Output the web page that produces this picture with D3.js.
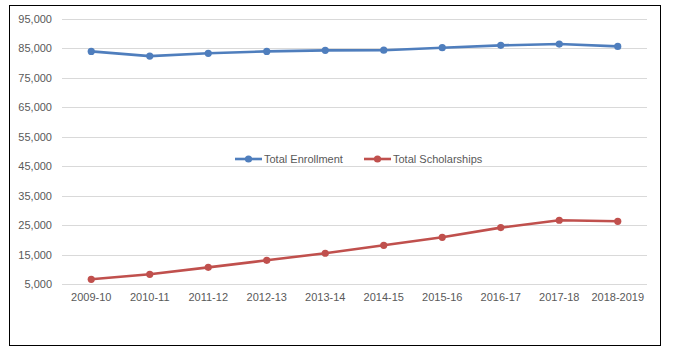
<!DOCTYPE html>
<html><head><meta charset="utf-8">
<script src="https://cdn.jsdelivr.net/npm/d3@7"></script>
<style>body{margin:0;background:#fff}svg{display:block}</style>
</head><body><svg id="c" width="673" height="358"></svg>
<script>
const categories = ["2009-10","2010-11","2011-12","2012-13","2013-14","2014-15","2015-16","2016-17","2017-18","2018-2019"];
const enrollment = [84000, 82400, 83350, 84000, 84350, 84400, 85250, 86050, 86500, 85700];
const scholarships = [6600, 8300, 10650, 13050, 15450, 18150, 20850, 24150, 26650, 26300];
const yTicks = [5000,15000,25000,35000,45000,55000,65000,75000,85000,95000];
const seriesNames = ["Total Enrollment","Total Scholarships"];
const colors = ["#4F7EBD","#C0504D"];

const svg = d3.select("#c");
const font = "'Liberation Sans', Arial, sans-serif";
svg.append("rect").attr("x",9.5).attr("y",5.5).attr("width",651).attr("height",340)
  .attr("fill","#fff").attr("stroke","#000").attr("stroke-width",1);

const x = d3.scaleBand().domain(categories).range([62,647]);
const y = d3.scaleLinear().domain([5000,95000]).range([284,19]);

const g = svg.append("g");
g.selectAll("line.grid").data(yTicks).join("line").attr("class","grid")
  .attr("x1",62).attr("x2",647)
  .attr("y1",d=>Math.round(y(d))+0.5).attr("y2",d=>Math.round(y(d))+0.5)
  .attr("stroke","#d9d9d9").attr("stroke-width",1);

const yAxis = svg.append("g").attr("transform","translate(62,0)")
  .call(d3.axisLeft(y).tickValues(yTicks).tickSize(0).tickPadding(10).tickFormat(d3.format(",")));
yAxis.select(".domain").remove();
yAxis.selectAll("text").attr("font-family",font).attr("font-size",11).attr("fill","#595959");

const xAxis = svg.append("g").attr("transform","translate(0,284)")
  .call(d3.axisBottom(x).tickSize(0).tickPadding(9));
xAxis.select(".domain").remove();
xAxis.selectAll("text").attr("font-family",font).attr("font-size",11).attr("fill","#595959");

const series = [enrollment, scholarships];
const line = d3.line().x((d,i)=>x(categories[i])+x.bandwidth()/2).y(d=>y(d));
series.forEach((s,k)=>{
  svg.append("path").datum(s).attr("d",line).attr("fill","none")
    .attr("stroke",colors[k]).attr("stroke-width",2.6).attr("stroke-linejoin","round");
  svg.selectAll(null).data(s).join("circle")
    .attr("cx",(d,i)=>x(categories[i])+x.bandwidth()/2).attr("cy",d=>y(d))
    .attr("r",3.6).attr("fill",colors[k]);
});

// legend
const legX = [235, 364];
seriesNames.forEach((n,k)=>{
  const lg = svg.append("g").attr("transform",`translate(${legX[k]},159)`);
  lg.append("line").attr("x1",0).attr("x2",27).attr("y1",0).attr("y2",0)
    .attr("stroke",colors[k]).attr("stroke-width",2.6);
  lg.append("circle").attr("cx",13.5).attr("cy",0).attr("r",3.6).attr("fill",colors[k]);
  lg.append("text").attr("x",29).attr("y",0).attr("dy","0.35em")
    .attr("font-family",font).attr("font-size",11).attr("fill","#595959").text(n);
});
</script></body></html>
